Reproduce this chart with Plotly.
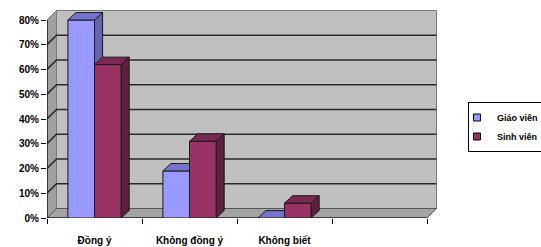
import plotly.graph_objects as go

# ---- data ----
categories = ["Đồng ý", "Không đồng ý", "Không biết", ""]
giao_vien = [80, 19, 0, None]
sinh_vien = [62, 31, 6, None]
series_names = ["Giáo viên", "Sinh viên"]
y_tick_values = [0, 10, 20, 30, 40, 50, 60, 70, 80]

# ---- style / geometry ----
FRONT = ["#9999ff", "#993366"]
TOP = ["#7474cc", "#7a2952"]
SIDE = ["#6666aa", "#5e1f40"]
OUTLINE = "#1a1a1a"
BAR_W = 0.28
DXB, DYB = 0.085, 3.0      # bar depth (data units)
DXW, DYW = 0.10, 3.84      # wall depth (data units)
YMAX = y_tick_values[-1]
n = len(categories)
X0, X1 = -0.5, n - 0.5
FONT = "Liberation Sans, Arial"

fig = go.Figure()


def poly(xs, ys, fill, line_color, width=1):
    fig.add_trace(go.Scatter(
        x=xs + [xs[0]], y=ys + [ys[0]], mode="lines", fill="toself",
        fillcolor=fill, line=dict(color=line_color, width=width),
        hoverinfo="skip", showlegend=False))


# back wall
poly([X0 + DXW, X1 + DXW, X1 + DXW, X0 + DXW],
     [DYW, DYW, YMAX + DYW, YMAX + DYW], "#c0c0c0", "#7a7a7a")
# left side wall
poly([X0, X0 + DXW, X0 + DXW, X0], [0, DYW, YMAX + DYW, YMAX], "#a0a0a0", "#7a7a7a")
# floor
poly([X0, X1, X1 + DXW, X0 + DXW], [0, 0, DYW, DYW], "#a3a3a3", "#555555")

# gridlines on walls
gx, gy = [], []
for v in y_tick_values[1:-1]:
    gx += [X0, X0 + DXW, X1 + DXW, None]
    gy += [v, v + DYW, v + DYW, None]
fig.add_trace(go.Scatter(x=gx, y=gy, mode="lines", line=dict(color="#2a2a2a", width=1.6),
                         hoverinfo="skip", showlegend=False))
# axis lines (front edges)
fig.add_trace(go.Scatter(x=[X0, X0, None, X0, X1], y=[YMAX, 0, None, 0, 0], mode="lines",
                         line=dict(color="#000000", width=1.2), hoverinfo="skip", showlegend=False))

# 3D bars
for i in range(n):
    for s, vals in enumerate([giao_vien, sinh_vien]):
        v = vals[i]
        if v is None:
            continue
        xl = i - BAR_W + s * BAR_W
        xr = xl + BAR_W
        if v > 0:
            poly([xr, xr + DXB, xr + DXB, xr], [0, DYB, v + DYB, v], SIDE[s], OUTLINE)
            poly([xl, xr, xr, xl], [0, 0, v, v], FRONT[s], OUTLINE)
        poly([xl, xr, xr + DXB, xl + DXB], [v, v, v + DYB, v + DYB], TOP[s], OUTLINE)

# legend entries
for s, name in enumerate(series_names):
    fig.add_trace(go.Scatter(
        x=[None], y=[None], mode="markers", name=name,
        marker=dict(symbol="square", size=7, color=FRONT[s], line=dict(color="#000", width=1))))

plot_w = 541 - 47 - 101
plot_h = 247 - 8 - 29
fig.update_layout(
    width=541, height=247,
    margin=dict(l=47, r=101, t=8, b=29, autoexpand=False),
    paper_bgcolor="white", plot_bgcolor="white",
    font=dict(family=FONT, size=10, color="#000"),
    showlegend=True,
    legend=dict(x=(468 - 47) / plot_w, y=(218 - 102) / plot_h, xanchor="left", yanchor="top",
                bordercolor="#000", borderwidth=1, bgcolor="white",
                font=dict(family=FONT, size=9, color="#000", weight="bold"),
                itemwidth=30, tracegroupgap=0, indentation=-12),
    xaxis=dict(range=[X0, X0 + plot_w / 95], tickvals=list(range(n)), ticktext=categories,
               ticks="", showgrid=False, zeroline=False, showline=False,
               ticklabelstandoff=15, automargin=False,
               tickfont=dict(family=FONT, size=10, weight="bold"),
               minor=dict(tickvals=[X0 + k for k in range(n + 1)], ticks="outside",
                          ticklen=5, tickcolor="#000", tickwidth=1, showgrid=False),
               fixedrange=True),
    yaxis=dict(range=[0, plot_h / 2.475], tickvals=y_tick_values,
               ticktext=[f"{v}%" for v in y_tick_values],
               ticks="outside", ticklen=5, tickcolor="#000", showgrid=False,
               zeroline=False, showline=False, automargin=False,
               tickfont=dict(family=FONT, size=10, weight="bold"), fixedrange=True),
)

fig.write_html("out.html", config={"displayModeBar": False},
               post_script="document.body.style.margin='0';document.body.style.overflow='hidden';")
